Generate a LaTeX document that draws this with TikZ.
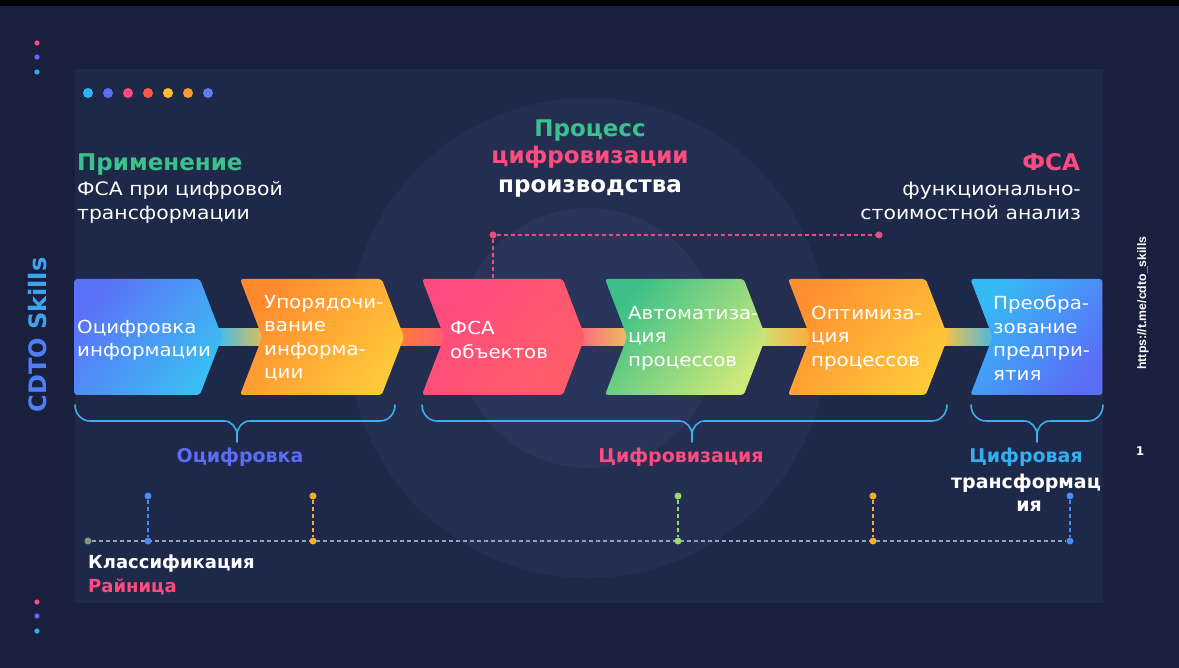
\documentclass[tikz,border=0pt]{standalone}
\usepackage{fontspec}
\setmainfont{DejaVu Sans}[UprightFeatures={FakeStretch=1.1}]
\newfontfamily\libfont{Liberation Sans}
\usetikzlibrary{shapes.symbols,calc}
\pgfdeclarelayer{back}
\pgfdeclarelayer{mid}
\pgfsetlayers{back,mid,main}
\definecolor{bgc}{HTML}{18203E}
\definecolor{panelc}{HTML}{1E2849}
\definecolor{circa}{HTML}{232E51}
\definecolor{circb}{HTML}{29355A}
\definecolor{grn}{HTML}{3CC08C}
\definecolor{pnk}{HTML}{FF4B7D}
\definecolor{cyn}{HTML}{35AEF0}
\definecolor{vio}{HTML}{5B6CF5}
\definecolor{brc}{HTML}{3AB0E8}
\definecolor{dpink}{HTML}{E8507A}
\definecolor{tline}{HTML}{8FA4B6}
\definecolor{dblue}{HTML}{4A8CF2}
\definecolor{dorange}{HTML}{F5B030}
\definecolor{dgreen}{HTML}{9AD870}
\definecolor{dgray}{HTML}{7E9C84}
\definecolor{c1a}{HTML}{5B72F8}
\definecolor{c1b}{HTML}{3BBDF2}
\definecolor{c2a}{HTML}{FF8A2E}
\definecolor{c2b}{HTML}{FFC83A}
\definecolor{c3a}{HTML}{FF4A80}
\definecolor{c3b}{HTML}{FF5E68}
\definecolor{c4a}{HTML}{3CC088}
\definecolor{c4b}{HTML}{CDE97A}
\definecolor{c5a}{HTML}{FF9030}
\definecolor{c5b}{HTML}{FFC83A}
\definecolor{c6a}{HTML}{35BAF6}
\definecolor{c6b}{HTML}{5A6EF7}
\definecolor{k12a}{HTML}{3CBDF2}
\definecolor{k12b}{HTML}{E8BE50}
\definecolor{k23a}{HTML}{FF7E38}
\definecolor{k23b}{HTML}{FF5C72}
\definecolor{k34a}{HTML}{FF6680}
\definecolor{k34b}{HTML}{E8C460}
\definecolor{k45a}{HTML}{CFE278}
\definecolor{k45b}{HTML}{FFA838}
\definecolor{k56a}{HTML}{FFC040}
\definecolor{k56b}{HTML}{40B8E8}
\newcommand\mybrace[3]{%
  \draw[bracestyle] (#1,405) to[out=-90,in=180] (#1+15,421) -- (#2-13,421) to[out=0,in=90] (#2,435) -- (#2,442);
  \draw[bracestyle] (#3,405) to[out=-90,in=0] (#3-15,421) -- (#2+13,421) to[out=180,in=90] (#2,435);
}
\begin{document}
\begin{tikzpicture}[x=1pt,y=-1pt,
  chev/.style={shape=signal, draw=none, inner sep=0pt, minimum height=116pt,
    signal pointer angle=138, rounded corners=3pt},
  boxtext/.style={anchor=west, inner sep=0pt, align=left, text=white,
    font=\fontsize{18}{23.5}\selectfont},
  bighead/.style={inner sep=0pt, font=\bfseries\fontsize{23}{28}\selectfont},
  subhead/.style={inner sep=0pt, text=white, font=\fontsize{18.5}{24}\selectfont},
  lab/.style={inner sep=0pt, font=\bfseries\fontsize{19}{24}\selectfont},
  bracestyle/.style={draw=brc, line width=1.6pt, line cap=round},
  dot/.style={circle, fill=#1, inner sep=0pt, minimum size=7pt},
  pdash/.style={draw=dpink, line width=1.2pt, dash pattern=on 4pt off 3pt},
  tdash/.style={draw=#1, line width=1.2pt, dash pattern=on 4pt off 3pt},
]
\useasboundingbox (0,0) rectangle (1179,668);
\begin{pgfonlayer}{back}
  \fill[bgc] (0,0) rectangle (1179,668);
  \fill[black] (0,0) rectangle (1179,6);
  \fill[panelc] (75,69) rectangle (1103,603);
  \fill[circa] (588,338) circle (240);
  \fill[circb] (588,338) circle (130);
\end{pgfonlayer}

% side dots
\foreach \yy/\cc in {43/pnk,57/vio,72/cyn,602/pnk,616/vio,631/cyn}
  \fill[\cc] (37,\yy) circle (2.6);
% top colour dots
\foreach \xx/\cc in {88/29B6F6,108/5B6CF5,128/FF4B7D,148/FF5A4A,168/FFC02A,188/FF9A30,208/5B7CF5}
  {\definecolor{tmpc}{HTML}{\cc}\fill[tmpc] (\xx,93) circle (5);}

% vertical texts
\node[rotate=90, inner sep=0pt, font=\bfseries\fontsize{24}{28}\selectfont] (cdto) at (38,335)
  {\textcolor[HTML]{4F7EF7}{CDTO} \textcolor[HTML]{3FA3EF}{Skills}};
\node[rotate=90, inner sep=0pt, text=white, font=\libfont\bfseries\fontsize{12.3}{14}\selectfont] (url) at (1143,303) {https://t.me/cdto\_skills};
\node[inner sep=0pt, text=white, font=\bfseries\fontsize{12}{14}\selectfont] (pnum) at (1140,451) {1};

% headers
\node[bighead, text=grn, anchor=base west] (h1) at (77,171) {Применение};
\node[subhead, anchor=base west] (h1a) at (77,196) {ФСА при цифровой};
\node[subhead, anchor=base west] (h1b) at (77,220) {трансформации};
\node[bighead, text=grn, anchor=base] (h2a) at (590,137) {Процесс};
\node[bighead, text=pnk, anchor=base] (h2b) at (590,164) {цифровизации};
\node[bighead, text=white, anchor=base] (h2c) at (590,193) {производства};
\node[bighead, text=pnk, anchor=base east] (h3) at (1080,171) {ФСА};
\node[subhead, anchor=base east] (h3a) at (1081,196) {функционально-};
\node[subhead, anchor=base east] (h3b) at (1081,220) {стоимостной анализ};

% chevrons
\node[chev, signal to=east, signal from=nowhere, minimum width=148pt,
  left color=c1a, right color=c1b, shading angle=50] (b1) at (137,337) {};
\node[chev, signal to=east, signal from=west, minimum width=164pt,
  left color=c2a, right color=c2b, shading angle=50] (b2) at (322,337) {};
\node[chev, signal to=east, signal from=west, minimum width=163pt,
  left color=c3a, right color=c3b, shading angle=50] (b3) at (503.5,337) {};
\node[chev, signal to=east, signal from=west, minimum width=161pt,
  left color=c4a, right color=c4b, shading angle=50] (b4) at (685.5,337) {};
\node[chev, signal to=east, signal from=west, minimum width=160pt,
  left color=c5a, right color=c5b, shading angle=50] (b5) at (868,337) {};
\node[chev, signal to=nowhere, signal from=west, minimum width=132pt,
  left color=c6a, right color=c6b, shading angle=50] (b6) at (1047.5,337) {};

% connector bars
\begin{pgfonlayer}{mid}
\foreach \a/\b/\ca/\cb in {b1/b2/k12a/k12b, b2/b3/k23a/k23b, b3/b4/k34a/k34b, b4/b5/k45a/k45b, b5/b6/k56a/k56b}
  \shade[left color=\ca, right color=\cb] ($(\a.east)+(-6,-8.5)$) rectangle ($(\b.north west |- \a.east)+(26,8.5)$);
\end{pgfonlayer}

% box texts
\node[boxtext] (t1) at (77,340) {Оцифровка\\информации};
\node[boxtext] (t2) at (264,338) {Упорядочи-\\вание\\информа-\\ции};
\node[boxtext] (t3) at (450,340) {ФСА\\объектов};
\node[boxtext] (t4) at (628,338) {Автоматиза-\\ция\\процессов};
\node[boxtext] (t5) at (811,338) {Оптимиза-\\ция\\процессов};
\node[boxtext] (t6) at (993,338) {Преобра-\\зование\\предпри-\\ятия};

% pink dashed link
\node[dot=dpink] (p1) at (493,235) {};
\node[dot=dpink] (p2) at (879,235) {};
\draw[pdash] (p1) -- (p2);
\draw[pdash] (p1) -- (p1 |- b3.north);

% braces
\mybrace{75}{237}{395}
\mybrace{422}{692}{947}
\mybrace{971}{1037}{1103}

% brace labels
\node[lab, text=vio, anchor=base] (l1) at (240,463) {Оцифровка};
\node[lab, text=pnk, anchor=base] (l2) at (681,463) {Цифровизация};
\node[lab, text=cyn, anchor=base] (l3a) at (1026,463) {Цифровая};
\node[lab, text=white, anchor=base] (l3b) at (1026,488) {трансформац};
\node[lab, text=white, anchor=base] (l3c) at (1029,511) {ия};

% timeline
\node[dot=dgray] (s0) at (88,541) {};
\node[dot=dblue] (s1) at (148,541) {};
\node[dot=dorange] (s2) at (313,541) {};
\node[dot=dgreen] (s3) at (678,541) {};
\node[dot=dorange] (s4) at (873,541) {};
\node[dot=dblue] (s5) at (1070,541) {};
\node[dot=dblue] (u1) at (148,496) {};
\node[dot=dorange] (u2) at (313,496) {};
\node[dot=dgreen] (u3) at (678,496) {};
\node[dot=dorange] (u4) at (873,496) {};
\node[dot=dblue] (u5) at (1070,496) {};
\begin{pgfonlayer}{mid}
\draw[tdash=tline] (s0) -- (s5);
\end{pgfonlayer}
\draw[tdash=dblue] (u1) -- (s1);
\draw[tdash=dorange] (u2) -- (s2);
\draw[tdash=dgreen] (u3) -- (s3);
\draw[tdash=dorange] (u4) -- (s4);
\draw[tdash=dblue] (u5) -- (s5);

\node[lab, text=white, anchor=base west, font=\bfseries\fontsize{18}{22}\selectfont] (k1) at (88,568) {Классификация};
\node[lab, text=pnk, anchor=base west, font=\bfseries\fontsize{18}{22}\selectfont] (k2) at (88,592) {Райница};
\end{tikzpicture}
\end{document}
